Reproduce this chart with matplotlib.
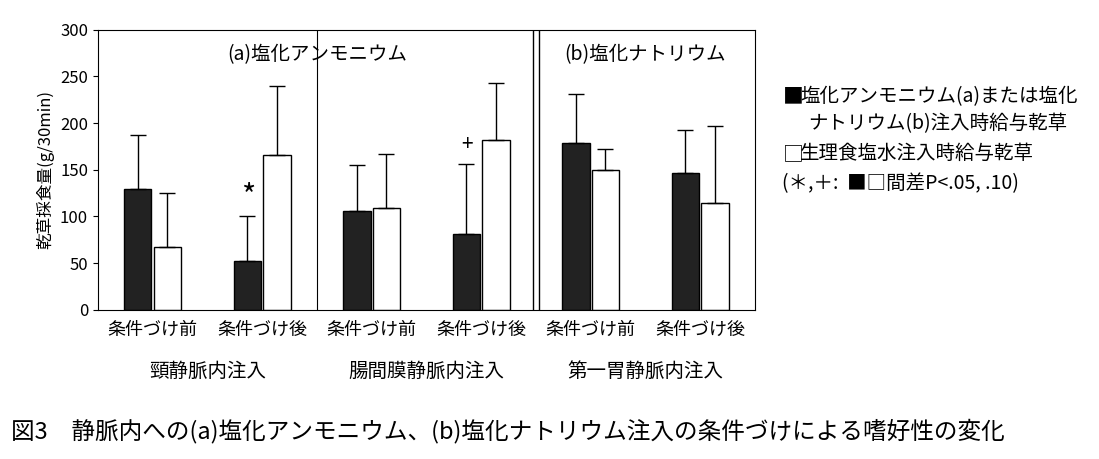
import numpy as np
import matplotlib.pyplot as plt

plt.rcParams['font.family'] = 'Noto Sans CJK JP'

tick_labels = ['条件づけ前', '条件づけ後'] * 3
group_labels = ['頸静脈内注入', '腸間膜静脈内注入', '第一胃静脈内注入']
treat_vals = [129, 52, 106, 81, 179, 147]
treat_err = [58, 49, 49, 75, 52, 46]
saline_vals = [67, 166, 109, 182, 150, 114]
saline_err = [58, 74, 58, 61, 22, 83]

fig = plt.figure(figsize=(10.99, 4.59), dpi=100)
ax = fig.add_axes([0.089, 0.325, 0.598, 0.61])
x = np.arange(6)
w = 0.25
ekw = dict(capsize=6, ecolor='black', elinewidth=1, capthick=1)
ax.bar(x - w / 2 - 0.01, treat_vals, w, color='#222222', edgecolor='black',
       yerr=[np.zeros(6), treat_err], error_kw=ekw)
ax.bar(x + w / 2 + 0.01, saline_vals, w, color='white', edgecolor='black',
       yerr=[np.zeros(6), saline_err], error_kw=ekw)

ax.axvline(1.5, color='black', lw=0.8)
ax.axvline(3.47, color='black', lw=1)
ax.axvline(3.53, color='black', lw=1)
ax.set_xlim(-0.5, 5.5)
ax.set_ylim(0, 300)
ax.set_yticks(range(0, 301, 50))
ax.set_xticks(x)
ax.set_xticklabels(tick_labels, fontsize=13)
ax.tick_params(axis='x', length=0, pad=8)
ax.tick_params(axis='y', labelsize=12)
ax.set_ylabel('乾草採食量(g/30min)', fontsize=12)

ax.text(1.5, 285, '(a)塩化アンモニウム', ha='center', va='top', fontsize=14)
ax.text(4.5, 285, '(b)塩化ナトリウム', ha='center', va='top', fontsize=14)
ax.text(0.87, 112, '*', ha='center', fontsize=22)
ax.text(2.87, 170, '+', ha='center', fontsize=15)

for i, g in enumerate(group_labels):
    ax.text(2 * i + 0.5, -55, g, ha='center', va='top', fontsize=14)

# legend as text
fig.text(0.712, 0.79, '■', fontsize=15, va='center')
fig.text(0.728, 0.79, '塩化アンモニウム(a)または塩化', fontsize=14, va='center')
fig.text(0.735, 0.73, 'ナトリウム(b)注入時給与乾草', fontsize=14, va='center')
fig.text(0.712, 0.665, '□', fontsize=15, va='center')
fig.text(0.728, 0.665, '生理食塩水注入時給与乾草', fontsize=14, va='center')
fig.text(0.712, 0.6, '(＊,＋:  ■□間差P<.05, .10)', fontsize=14, va='center')

fig.text(0.01, 0.06, '図3　静脈内への(a)塩化アンモニウム、(b)塩化ナトリウム注入の条件づけによる嗜好性の変化',
         fontsize=17, va='center')

plt.savefig('out.png', dpi=100)
